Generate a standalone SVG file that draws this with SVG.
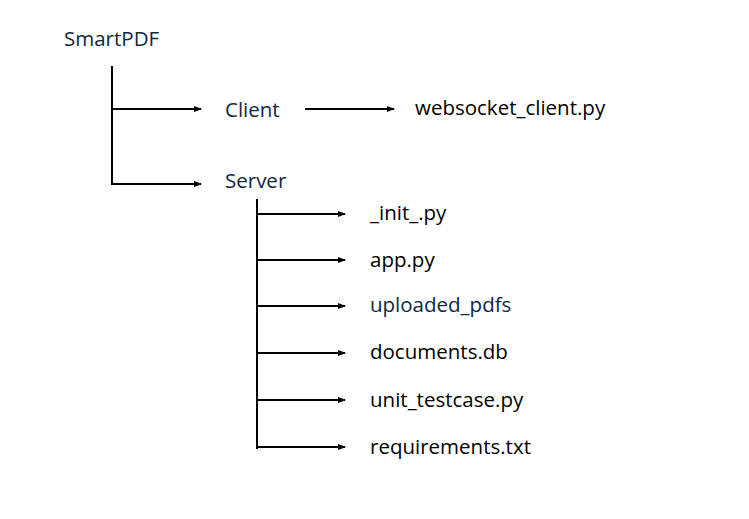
<svg xmlns="http://www.w3.org/2000/svg" width="749" height="519" viewBox="0 0 749 519">
<defs>
<marker id="ah" markerWidth="8" markerHeight="6" refX="7" refY="3" orient="auto" markerUnits="userSpaceOnUse">
<path d="M0,0 L8,3 L0,6 z" fill="#000"/>
</marker>
<style>
text{font-family:"Open Sans","Liberation Sans",sans-serif;font-size:20.5px;fill:#000}
.d{fill:#0E2841}
.l{stroke:#000;stroke-width:2;fill:none}
.a{stroke:#000;stroke-width:1.8;fill:none;marker-end:url(#ah)}
</style>
</defs>
<rect width="749" height="519" fill="#fff"/>
<g id="connectors">
<path class="l" d="M112,66 V185"/>
<path class="a" d="M111,109 H201"/>
<path class="a" d="M111,184 H201"/>
<path class="a" d="M305,109 H394"/>
<path class="l" d="M257,199 V449"/>
<path class="a" d="M256,214 H345"/>
<path class="a" d="M256,260 H345"/>
<path class="a" d="M256,306 H345"/>
<path class="a" d="M256,353 H345"/>
<path class="a" d="M256,400 H345"/>
<path class="a" d="M256,447 H345"/>
</g>
<g id="smartpdf"><text class="d" x="64" y="46">SmartPDF</text></g>
<g id="client"><text class="d" x="225" y="117">Client</text></g>
<g id="server"><text class="d" x="225" y="188">Server</text></g>
<g id="websocket_client"><text x="415" y="115">websocket_client.py</text></g>
<g id="init"><text x="370" y="220">_init_.py</text></g>
<g id="app"><text x="370" y="267">app.py</text></g>
<g id="uploaded_pdfs"><text class="d" x="370" y="312">uploaded_pdfs</text></g>
<g id="documents"><text x="370" y="359">documents.db</text></g>
<g id="unit_testcase"><text x="370" y="407">unit_testcase.py</text></g>
<g id="requirements"><text x="370" y="454">requirements.txt</text></g>
</svg>
